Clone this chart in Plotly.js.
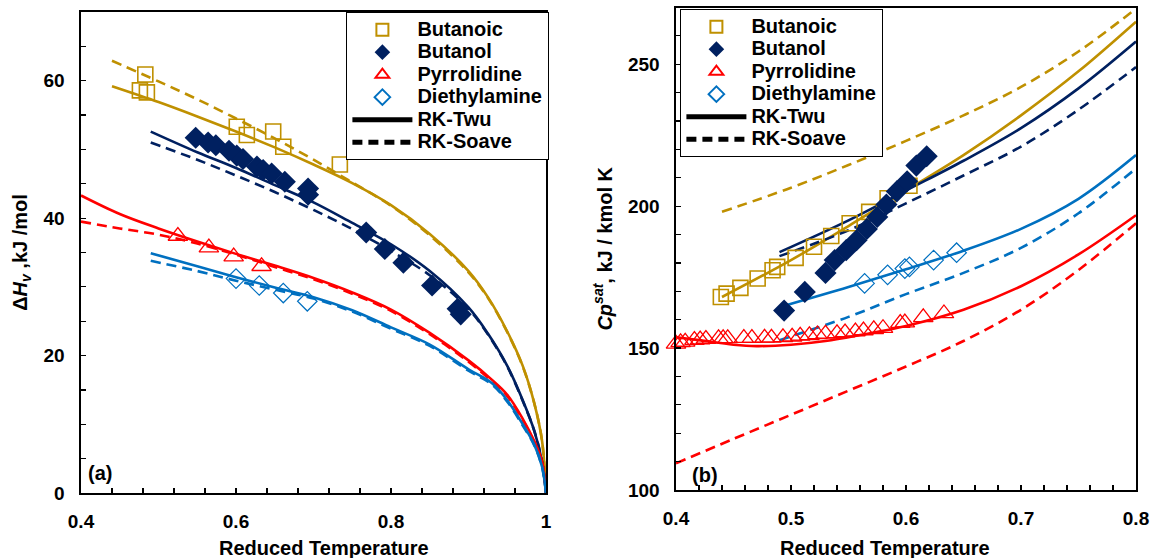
<!DOCTYPE html>
<html>
<head>
<meta charset="utf-8">
<script src="https://cdn.plot.ly/plotly-3.0.1.min.js"></script>
<style>
  html, body { margin: 0; padding: 0; background: #fff; }
  #chart { width: 1150px; height: 558px; }
</style>
</head>
<body>
<div id="chart"></div>
<script>
// ---------- (a) heat of vaporization vs reduced temperature ----------
const hvButanoicTr = [0.476, 0.483, 0.485, 0.601, 0.614, 0.648, 0.661, 0.734];
const hvButanoic   = [58.6, 60.9, 58.3, 53.3, 52.1, 52.6, 50.4, 47.8];
const hvButanolTr  = [0.548, 0.564, 0.574, 0.591, 0.601, 0.609, 0.627, 0.635, 0.646, 0.663, 0.693, 0.693, 0.768, 0.792, 0.816, 0.853, 0.886, 0.890];
const hvButanol    = [51.7, 51.0, 50.6, 49.8, 49.1, 48.6, 47.5, 47.0, 46.5, 45.3, 44.3, 43.4, 37.9, 35.5, 33.5, 30.2, 26.8, 26.0];
const hvPyrrolTr   = [0.525, 0.565, 0.597, 0.633];
const hvPyrrol     = [37.4, 35.7, 34.4, 33.0];
const hvDiethylTr  = [0.600, 0.630, 0.661, 0.692];
const hvDiethyl    = [31.2, 30.2, 29.1, 27.9];

// model curves, panel (a)
const hvTwuButanoicTr = [0.44, 0.5, 0.55, 0.6, 0.65, 0.7, 0.75, 0.8, 0.85, 0.9, 0.925, 0.95, 0.97, 0.985, 0.995, 1.0];
const hvTwuButanoic   = [59.2, 56.9, 54.8, 52.6, 50.3, 47.8, 45.1, 41.9, 37.7, 32.3, 28.5, 23.5, 18.5, 13.0, 7.5, 0];
const hvSoaveButanoicTr = [0.44, 0.5, 0.55, 0.6, 0.65, 0.7, 0.75, 0.8, 0.85, 0.9, 0.925, 0.95, 0.97, 0.985, 0.995, 1.0];
const hvSoaveButanoic   = [62.9, 59.9, 57.3, 54.5, 51.6, 48.5, 45.2, 41.8, 37.5, 32.1, 28.4, 23.4, 18.4, 13.0, 7.5, 0];
const hvTwuButanolTr = [0.49, 0.55, 0.6, 0.65, 0.7, 0.75, 0.8, 0.85, 0.9, 0.925, 0.95, 0.97, 0.985, 0.995, 1.0];
const hvTwuButanol   = [52.6, 49.6, 47.3, 44.8, 42.3, 39.3, 36.2, 32.3, 27.0, 23.2, 18.5, 13.5, 9.0, 4.5, 0];
const hvSoaveButanolTr = [0.49, 0.55, 0.6, 0.65, 0.7, 0.75, 0.8, 0.85, 0.9, 0.925, 0.95, 0.97, 0.985, 0.995, 1.0];
const hvSoaveButanol   = [51.0, 48.5, 46.2, 43.8, 41.2, 38.4, 35.2, 31.7, 26.8, 23.1, 18.4, 13.4, 9.0, 4.5, 0];
const hvTwuPyrrolTr = [0.4, 0.45, 0.5, 0.55, 0.6, 0.65, 0.7, 0.75, 0.8, 0.85, 0.9, 0.93, 0.95, 0.97, 0.985, 0.995, 1.0];
const hvTwuPyrrol   = [43.3, 40.6, 38.5, 36.6, 34.8, 33.1, 31.3, 29.2, 26.7, 23.3, 19.3, 16.5, 14.3, 10.8, 7.5, 4.5, 0];
const hvSoavePyrrolTr = [0.4, 0.45, 0.5, 0.55, 0.6, 0.65, 0.7, 0.75, 0.8, 0.85, 0.9, 0.93, 0.95, 0.97, 0.985, 0.995, 1.0];
const hvSoavePyrrol   = [39.5, 38.5, 37.6, 36.3, 34.7, 32.9, 31.1, 29.0, 26.5, 23.1, 19.1, 16.3, 14.1, 10.6, 7.4, 4.4, 0];
const hvTwuDiethylTr = [0.49, 0.55, 0.6, 0.65, 0.7, 0.75, 0.8, 0.85, 0.9, 0.93, 0.95, 0.97, 0.985, 0.995, 1.0];
const hvTwuDiethyl   = [34.9, 33.0, 31.4, 29.9, 28.5, 26.6, 24.1, 21.6, 18.0, 16.0, 13.5, 10.0, 7.0, 3.8, 0];
const hvSoaveDiethylTr = [0.49, 0.55, 0.6, 0.65, 0.7, 0.75, 0.8, 0.85, 0.9, 0.93, 0.95, 0.97, 0.985, 0.995, 1.0];
const hvSoaveDiethyl   = [33.8, 32.3, 30.9, 29.6, 28.3, 26.4, 23.9, 21.4, 17.8, 15.8, 13.3, 9.8, 6.9, 3.7, 0];

// ---------- (b) saturated heat capacity vs reduced temperature ----------
const cpButanoicTr = [0.439, 0.444, 0.456, 0.471, 0.484, 0.488, 0.504, 0.520, 0.535, 0.551, 0.568, 0.584, 0.603];
const cpButanoic   = [168.0, 169.2, 171.2, 174.5, 177.4, 178.6, 181.8, 185.7, 189.5, 194.0, 198.0, 202.8, 207.2];
const cpButanolTr  = [0.494, 0.512, 0.530, 0.538, 0.548, 0.557, 0.566, 0.575, 0.583, 0.592, 0.601, 0.609, 0.618];
const cpButanol    = [163.2, 169.8, 176.5, 181.0, 184.5, 188.0, 192.0, 196.2, 200.6, 205.2, 208.8, 214.3, 217.6];
const cpPyrrolTr   = [0.400, 0.404, 0.408, 0.416, 0.421, 0.426, 0.437, 0.441, 0.445, 0.459, 0.466, 0.477, 0.483, 0.493, 0.501, 0.508, 0.516, 0.523, 0.530, 0.540, 0.547, 0.556, 0.563, 0.572, 0.580, 0.595, 0.599, 0.615, 0.633];
const cpPyrrol     = [151.5, 152.0, 152.2, 152.8, 153.0, 153.2, 153.4, 153.4, 153.4, 153.5, 153.5, 153.6, 153.6, 153.8, 154.0, 154.3, 154.5, 154.8, 155.0, 155.2, 155.5, 155.8, 156.2, 156.6, 157.0, 158.8, 159.0, 160.8, 162.2];
const cpDiethylTr  = [0.564, 0.584, 0.599, 0.603, 0.624, 0.644];
const cpDiethyl    = [172.8, 175.8, 178.0, 178.6, 181.0, 183.6];

// model curves, panel (b)
const cpTwuButanoicTr = [0.44, 0.5, 0.55, 0.6, 0.65, 0.7, 0.75, 0.8];
const cpTwuButanoic   = [168.0, 181.0, 193.0, 205.5, 218.0, 232.0, 247.5, 265.0];
const cpSoaveButanoicTr = [0.44, 0.5, 0.55, 0.6, 0.65, 0.7, 0.75, 0.8];
const cpSoaveButanoic   = [198.0, 206.5, 214.5, 223.0, 232.0, 242.0, 254.5, 269.6];
const cpTwuButanolTr = [0.49, 0.55, 0.6, 0.65, 0.7, 0.75, 0.8];
const cpTwuButanol   = [183.8, 195.0, 205.5, 216.0, 227.5, 241.5, 258.0];
const cpSoaveButanolTr = [0.49, 0.55, 0.6, 0.65, 0.7, 0.75, 0.8];
const cpSoaveButanol   = [182.4, 191.5, 201.0, 210.8, 221.0, 234.0, 249.0];
const cpTwuPyrrolTr = [0.4, 0.42, 0.45, 0.47, 0.5, 0.53, 0.56, 0.6, 0.65, 0.7, 0.75, 0.8];
const cpTwuPyrrol   = [153.8, 152.8, 151.2, 150.7, 151.2, 152.5, 154.6, 157.8, 163.5, 171.8, 183.0, 196.8];
const cpSoavePyrrolTr = [0.4, 0.45, 0.5, 0.55, 0.6, 0.65, 0.7, 0.75, 0.8];
const cpSoavePyrrol   = [109.4, 118.0, 126.5, 135.0, 143.5, 152.5, 163.5, 177.5, 194.0];
const cpTwuDiethylTr = [0.495, 0.55, 0.6, 0.65, 0.7, 0.75, 0.8];
const cpTwuDiethyl   = [165.0, 171.5, 177.8, 184.3, 192.0, 202.6, 218.0];
const cpSoaveDiethylTr = [0.49, 0.55, 0.6, 0.65, 0.7, 0.75, 0.8];
const cpSoaveDiethyl   = [152.8, 161.0, 169.0, 176.5, 185.3, 197.5, 213.3];

const legendNames = ['Butanoic', 'Butanol', 'Pyrrolidine', 'Diethylamine', 'RK-Twu', 'RK-Soave'];
const xTitle = 'Reduced Temperature';

const GOLD = '#BF9000', NAVY = '#002060', RED = '#FF0000', BLUE = '#0070C0';
const FONT = 'Liberation Sans, Arial, Helvetica, sans-serif';
const DASH = '10px,6px';

function curve(x, y, color, dashed, xa, ya) {
  return { x, y, xaxis: xa, yaxis: ya, type: 'scatter', mode: 'lines', showlegend: false,
           hoverinfo: 'skip', line: { color, width: 2.6, dash: dashed ? DASH : 'solid', shape: 'spline', smoothing: 1 } };
}

const markerStyles = [
  { symbol: 'square-open', size: 15, color: GOLD, line: { width: 1.6, color: GOLD } },
  { symbol: 'diamond', size: 17, color: NAVY, line: { width: 0 } },
  { symbol: 'triangle-up-open', size: 17, color: RED, line: { width: 1.3, color: RED } },
  { symbol: 'diamond-open', size: 15, color: BLUE, line: { width: 1.2, color: BLUE } }
];

// legend labels are set larger than the legend row pitch so rows stay compact
function label(i) {
  return '<span style="font-size:20px">' + legendNames[i] + '</span>';
}

function points(x, y, i, xa, ya, legend) {
  return { x, y, xaxis: xa, yaxis: ya, type: 'scatter', mode: 'markers', name: label(i),
           legend, legendrank: i + 1, showlegend: true, cliponaxis: false, marker: markerStyles[i] };
}

function keyLine(i, dashed, xa, ya, legend) {
  return { x: [null], y: [null], xaxis: xa, yaxis: ya, type: 'scatter', mode: 'lines', name: label(i),
           legend, legendrank: i + 1, showlegend: true, line: { color: '#000', width: 2.6, dash: dashed ? DASH : 'solid' } };
}

const traces = [
  // panel (a) curves
  curve(hvSoaveButanoicTr, hvSoaveButanoic, GOLD, true, 'x', 'y'),
  curve(hvTwuButanoicTr, hvTwuButanoic, GOLD, false, 'x', 'y'),
  curve(hvSoaveButanolTr, hvSoaveButanol, NAVY, true, 'x', 'y'),
  curve(hvTwuButanolTr, hvTwuButanol, NAVY, false, 'x', 'y'),
  curve(hvSoavePyrrolTr, hvSoavePyrrol, RED, true, 'x', 'y'),
  curve(hvTwuPyrrolTr, hvTwuPyrrol, RED, false, 'x', 'y'),
  curve(hvSoaveDiethylTr, hvSoaveDiethyl, BLUE, true, 'x', 'y'),
  curve(hvTwuDiethylTr, hvTwuDiethyl, BLUE, false, 'x', 'y'),
  // panel (a) measurements
  points(hvButanoicTr, hvButanoic, 0, 'x', 'y', 'legend'),
  points(hvButanolTr, hvButanol, 1, 'x', 'y', 'legend'),
  points(hvPyrrolTr, hvPyrrol, 2, 'x', 'y', 'legend'),
  points(hvDiethylTr, hvDiethyl, 3, 'x', 'y', 'legend'),
  keyLine(4, false, 'x', 'y', 'legend'),
  keyLine(5, true, 'x', 'y', 'legend'),
  // panel (b) curves
  curve(cpSoaveButanoicTr, cpSoaveButanoic, GOLD, true, 'x2', 'y2'),
  curve(cpTwuButanoicTr, cpTwuButanoic, GOLD, false, 'x2', 'y2'),
  curve(cpSoaveButanolTr, cpSoaveButanol, NAVY, true, 'x2', 'y2'),
  curve(cpTwuButanolTr, cpTwuButanol, NAVY, false, 'x2', 'y2'),
  curve(cpSoavePyrrolTr, cpSoavePyrrol, RED, true, 'x2', 'y2'),
  curve(cpTwuPyrrolTr, cpTwuPyrrol, RED, false, 'x2', 'y2'),
  curve(cpSoaveDiethylTr, cpSoaveDiethyl, BLUE, true, 'x2', 'y2'),
  curve(cpTwuDiethylTr, cpTwuDiethyl, BLUE, false, 'x2', 'y2'),
  // panel (b) measurements
  points(cpPyrrolTr, cpPyrrol, 2, 'x2', 'y2', 'legend2'),
  points(cpButanoicTr, cpButanoic, 0, 'x2', 'y2', 'legend2'),
  points(cpButanolTr, cpButanol, 1, 'x2', 'y2', 'legend2'),
  points(cpDiethylTr, cpDiethyl, 3, 'x2', 'y2', 'legend2'),
  keyLine(4, false, 'x2', 'y2', 'legend2'),
  keyLine(5, true, 'x2', 'y2', 'legend2')
];

const tickFont = { family: FONT, size: 19, color: '#000', weight: 'bold' };
const titleFont = { family: FONT, size: 20, color: '#000', weight: 'bold' };

function axis(extra) {
  return Object.assign({
    showline: true, mirror: true, linecolor: '#000', linewidth: 1.6,
    showgrid: false, zeroline: false, ticks: 'inside', ticklen: 5, tickwidth: 1.2, tickcolor: '#000',
    tickfont: tickFont, ticklabelstandoff: 11, fixedrange: true
  }, extra);
}

const minorTicks = (d) => ({ dtick: d, ticks: 'inside', ticklen: 5, tickwidth: 1.2, tickcolor: '#000' });

const legendBase = {
  bgcolor: '#fff', bordercolor: '#000', borderwidth: 1.4,
  font: { family: FONT, size: 15, color: '#000', weight: 'bold' },
  itemwidth: 60, itemsizing: 'constant', tracegroupgap: 0,
  xanchor: 'left', yanchor: 'top', traceorder: 'normal'
};

const layout = {
  width: 1150, height: 558,
  margin: { l: 0, r: 0, t: 0, b: 0 },
  paper_bgcolor: '#fff', plot_bgcolor: '#fff',
  showlegend: true,
  xaxis: axis({ domain: [81 / 1150, 546 / 1150], range: [0.4, 1.0], dtick: 0.2, tick0: 0,
    minor: minorTicks(0.04), anchor: 'y' }),
  yaxis: axis({ domain: [(558 - 493) / 558, (558 - 12) / 558], range: [0, 70], dtick: 20, tick0: 0,
    minor: minorTicks(5),
    title: { text: 'Δ<i>H<sub>v</sub></i> ,kJ /mol', font: titleFont, standoff: 10 }, anchor: 'x' }),
  xaxis2: axis({ domain: [676 / 1150, 1136 / 1150], range: [0.4, 0.8], dtick: 0.1, tick0: 0,
    minor: minorTicks(0.02), anchor: 'y2' }),
  yaxis2: axis({ domain: [(558 - 490) / 558, (558 - 7.5) / 558], range: [100, 270], dtick: 50, tick0: 0,
    minor: minorTicks(10),
    title: { text: '<i>Cp<sup>sat</sup></i>, kJ / kmol K', font: titleFont, standoff: 10 }, anchor: 'x2' }),
  legend: Object.assign({}, legendBase, { x: 346 / 1150, y: (558 - 12) / 558 }),
  legend2: Object.assign({}, legendBase, { x: 680 / 1150, y: (558 - 9) / 558 }),
  annotations: [
    // x-axis titles, set slightly off the panel centres
    { text: xTitle, xref: 'paper', yref: 'paper', x: 324 / 1150, y: (558 - 548) / 558,
      xanchor: 'center', yanchor: 'middle', showarrow: false, font: titleFont },
    { text: xTitle, xref: 'paper', yref: 'paper', x: 885 / 1150, y: (558 - 548) / 558,
      xanchor: 'center', yanchor: 'middle', showarrow: false, font: titleFont },
    // panel tags
    { text: '(a)', xref: 'paper', yref: 'paper', x: 100 / 1150, y: (558 - 473) / 558,
      xanchor: 'center', yanchor: 'middle', showarrow: false,
      font: { family: FONT, size: 20, color: '#000', weight: 'bold' } },
    { text: '(b)', xref: 'paper', yref: 'paper', x: 705 / 1150, y: (558 - 475) / 558,
      xanchor: 'center', yanchor: 'middle', showarrow: false,
      font: { family: FONT, size: 20, color: '#000', weight: 'bold' } }
  ]
};

Plotly.newPlot('chart', traces, layout, { displayModeBar: false, staticPlot: true });
</script>
</body>
</html>
